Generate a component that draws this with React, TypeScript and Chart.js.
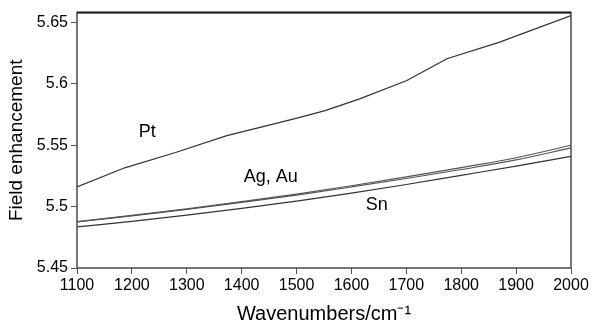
import React, { useEffect, useRef } from "react";
import { Chart, registerables } from "chart.js";

Chart.register(...registerables);

// Wavenumbers (cm^-1)
const ptWavenumbers = [1100, 1187, 1278, 1373, 1461, 1506, 1552, 1615, 1701, 1774, 1870, 2000];
const ptValues = [5.516, 5.5316, 5.5439, 5.5578, 5.5676, 5.5727, 5.5782, 5.5877, 5.6027, 5.6204, 5.634, 5.6555];

const wavenumbers = [1100, 1200, 1300, 1400, 1500, 1600, 1700, 1800, 1900, 2000];
const agValues = [5.4878, 5.4928, 5.4982, 5.504, 5.5102, 5.517, 5.5242, 5.5318, 5.5398, 5.55];
const auValues = [5.4876, 5.4925, 5.4978, 5.5034, 5.5094, 5.516, 5.5229, 5.5302, 5.538, 5.5478];
const snValues = [5.4835, 5.488, 5.493, 5.4985, 5.5045, 5.511, 5.518, 5.5255, 5.533, 5.5409];

const xTicks = [1100, 1200, 1300, 1400, 1500, 1600, 1700, 1800, 1900, 2000];
const yTicks = [5.45, 5.5, 5.55, 5.6, 5.65];

const labelTexts = ["Pt", "Ag, Au", "Sn"];
const labelX = [1228, 1453, 1646];
const labelY = [5.561, 5.5243, 5.5014];

const FONT = "'Liberation Sans', Arial, Helvetica, sans-serif";

const toPoints = (xs: number[], ys: number[]) => xs.map((x, i) => ({ x, y: ys[i] }));

const framePlugin = {
  id: "frame",
  afterDatasetsDraw(chart: any) {
    const { ctx, chartArea } = chart;
    const { left, right, top, bottom } = chartArea;
    ctx.save();
    ctx.strokeStyle = "#4a4a4a";
    ctx.lineWidth = 1.5;
    ctx.strokeRect(left, top, right - left, bottom - top);
    ctx.strokeStyle = "#222";
    ctx.lineWidth = 2;
    ctx.beginPath();
    ctx.moveTo(left, top);
    ctx.lineTo(right, top);
    ctx.stroke();
    // curve labels
    ctx.fillStyle = "#000";
    ctx.font = `18px ${FONT}`;
    ctx.textAlign = "center";
    ctx.textBaseline = "middle";
    const xs = chart.scales.x;
    const ys = chart.scales.y;
    labelTexts.forEach((t, i) => {
      ctx.fillText(t, xs.getPixelForValue(labelX[i]), ys.getPixelForValue(labelY[i]));
    });
    ctx.restore();
  },
};

export default function App() {
  const ref = useRef<HTMLCanvasElement>(null);
  useEffect(() => {
    if (!ref.current) return;
    const lineStyle = {
      borderWidth: 1.2,
      pointRadius: 0,
      fill: false,
    };
    const chart = new Chart(ref.current, {
      type: "line",
      data: {
        datasets: [
          { label: "Pt", data: toPoints(ptWavenumbers, ptValues), borderColor: "#333", tension: 0, ...lineStyle },
          { label: "Ag", data: toPoints(wavenumbers, agValues), borderColor: "#555", cubicInterpolationMode: "monotone", ...lineStyle },
          { label: "Au", data: toPoints(wavenumbers, auValues), borderColor: "#555", cubicInterpolationMode: "monotone", ...lineStyle },
          { label: "Sn", data: toPoints(wavenumbers, snValues), borderColor: "#333", cubicInterpolationMode: "monotone", ...lineStyle },
        ],
      },
      options: {
        animation: false,
        responsive: false,
        maintainAspectRatio: false,
        layout: { padding: { left: 0, right: 20, top: 12, bottom: 0 } },
        plugins: { legend: { display: false }, tooltip: { enabled: false } },
        scales: {
          x: {
            type: "linear",
            min: 1100,
            max: 2000,
            afterFit: (s: any) => {
              s.height = 58;
            },
            afterBuildTicks: (s: any) => {
              s.ticks = xTicks.map((v) => ({ value: v }));
            },
            ticks: {
              color: "#000",
              font: { family: FONT, size: 16 },
              padding: 2,
              maxRotation: 0,
              callback: (v: any) => String(v),
            },
            grid: { drawOnChartArea: false, drawTicks: true, tickLength: 6, color: "#555", lineWidth: 1 },
            border: { display: false },
            title: {
              display: true,
              text: "Wavenumbers/cm\u207B\u00B9",
              color: "#000",
              font: { family: FONT, size: 20 },
              padding: { top: 0, bottom: 0 },
            },
          },
          y: {
            type: "linear",
            min: 5.45,
            max: 5.658,
            afterFit: (s: any) => {
              s.width = 77;
            },
            afterBuildTicks: (s: any) => {
              s.ticks = yTicks.map((v) => ({ value: v }));
            },
            ticks: {
              color: "#000",
              font: { family: FONT, size: 16 },
              padding: 3,
              callback: (v: any) => String(Number(Number(v).toFixed(2))),
            },
            grid: { drawOnChartArea: false, drawTicks: true, tickLength: 6, color: "#555", lineWidth: 1 },
            border: { display: false },
            title: {
              display: true,
              text: "Field enhancement",
              color: "#000",
              font: { family: FONT, size: 19 },
              padding: { top: 5, bottom: 0 },
            },
          },
        },
      },
      plugins: [framePlugin],
    } as any);
    return () => chart.destroy();
  }, []);
  return (
    <div style={{ position: "fixed", left: 0, top: 0, width: 591, height: 326, background: "#fff" }}>
      <canvas ref={ref} width={591} height={326} style={{ display: "block", width: 591, height: 326 }} />
    </div>
  );
}
